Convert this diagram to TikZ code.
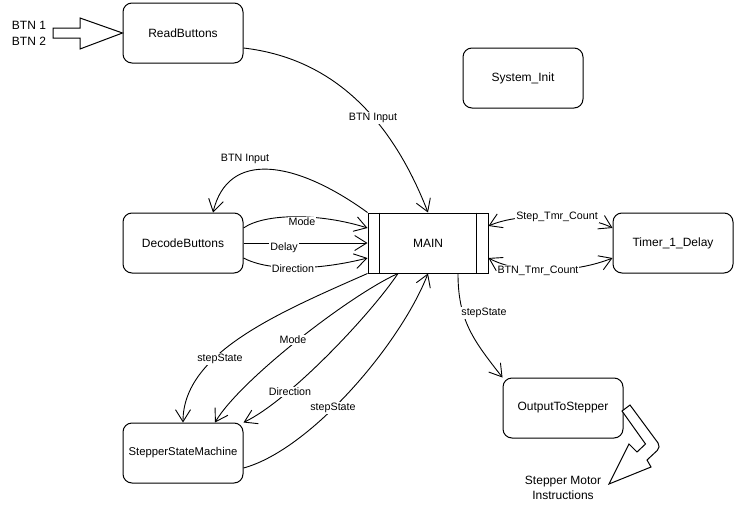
\documentclass[tikz,border=0pt]{standalone}
\usepackage{fontspec}
\setmainfont{Liberation Sans}
\usetikzlibrary{arrows.meta}
\begin{document}
\begin{tikzpicture}[x=1pt,y=-1pt,
  font=\fontsize{12}{14}\selectfont,
  block/.style={draw, line width=1pt, rounded corners=9pt, minimum width=120pt, minimum height=60pt, inner sep=0pt},
  proc/.style={draw, line width=1pt, minimum width=120pt, minimum height=60pt, inner sep=0pt},
  flow/.style={line width=0.9pt, -{Straight Barb[length=12pt,width=15pt]}},
  flow2/.style={line width=0.9pt, {Straight Barb[length=12pt,width=15pt]}-{Straight Barb[length=12pt,width=15pt]}},
  lbl/.style={fill=white, inner sep=1pt, font=\fontsize{10.7}{12}\selectfont},
  hollow/.style={draw, line width=1pt, line join=miter, fill=white}
]
\fill[white] (0,0) rectangle (736,506);
\useasboundingbox (0,0) rectangle (736,506);

% modules
\node[block] (rb)   at (183,33)  {ReadButtons};
\node[block] (si)   at (523,78)  {System\_Init};
\node[block] (db)   at (183,243) {DecodeButtons};
\node[proc]  (main) at (428,243) {MAIN};
\node[block] (tm)   at (673,243) {Timer\_1\_Delay};
\node[block] (ssm)  at (183,453) {\fontsize{11.3}{13}\selectfont StepperStateMachine};
\node[block] (out)  at (563,408) {OutputToStepper};

% side bars of the MAIN process box
\draw[line width=1pt] ([xshift=12pt]main.north west) -- ([xshift=12pt]main.south west);
\draw[line width=1pt] ([xshift=-12pt]main.north east) -- ([xshift=-12pt]main.south east);

% button inputs
\node[align=left, font=\fontsize{12}{16}\selectfont, inner sep=0pt] (btns) at (29,33) {BTN 1\\BTN 2};
\coordinate (btntip) at (rb.west);
\draw[hollow] (53,28) -- (80,28) -- (80,18) -- (btntip) -- (80,49) -- (80,38) -- (53,38) -- cycle;

% stepper output
\draw[hollow] (622,411) -- (630,405) [rounded corners=5pt]-- (661,447) [sharp corners]-- (647,460)
  -- (651,467) -- (609,484) -- (629,444) -- (637,452) -- (645.5,444) -- cycle;
\node[align=center, font=\fontsize{12}{15}\selectfont, inner sep=0pt] (motor) at (563,488) {Stepper Motor\\Instructions};

% ReadButtons -> MAIN
\draw[flow] ([yshift=-15pt]rb.east) .. controls (330,58) and (390,115) .. (main.north);
\node[lbl] (l1) at (373,118) {BTN Input};

% MAIN -> DecodeButtons
\draw[flow] (main.north west) .. controls (295,160) and (228,150) .. ([xshift=30pt]db.north);
\node[lbl] (l2) at (245,159) {BTN Input};

% DecodeButtons -> MAIN
\draw[flow] ([yshift=15pt]db.east) .. controls (265,213) and (320,213) .. ([yshift=15pt]main.west);
\node[lbl] (l3) at (302,222) {Mode};
\draw[flow] (db.east) -- (main.west);
\node[lbl] (l4) at (284,248) {Delay};
\draw[flow] ([yshift=-15pt]db.east) .. controls (270,272) and (320,270) .. ([yshift=-15pt]main.west);
\node[lbl] (l5) at (293,269) {Direction};

% MAIN <-> Timer_1_Delay
\draw[flow2] ([yshift=17pt]main.east) .. controls (520,212) and (585,214) .. ([yshift=15pt]tm.west);
\node[lbl] (l6) at (557,217) {Step\_Tmr\_Count};
\draw[flow2] ([yshift=-15pt]main.east) .. controls (520,275) and (575,273) .. ([yshift=-15pt]tm.west);
\node[lbl] (l7) at (538,271) {BTN\_Tmr\_Count};

% MAIN <-> StepperStateMachine
\draw[flow] (main.south west) .. controls (278,313) and (183,353) .. (ssm.north);
\node[lbl] (l8) at (220,359) {stepState};
\draw[flow] ([xshift=-30pt]main.south) .. controls (350,295) and (240,380) .. ([xshift=32pt]ssm.north);
\node[lbl] (l9) at (293,340) {Mode};
\draw[flow] ([xshift=-30pt]main.south) .. controls (370,315) and (290,400) .. (ssm.north east);
\node[lbl] (l10) at (290,392) {Direction};
\draw[flow] ([yshift=-15pt]ssm.east) .. controls (310,450) and (400,345) .. (main.south);
\node[lbl] (l11) at (333,408) {stepState};

% MAIN -> OutputToStepper
\draw[flow] ([xshift=30pt]main.south) .. controls (458,320) and (473,340) .. (out.north west);
\node[lbl] (l12) at (484,313) {stepState};
\end{tikzpicture}
\end{document}
